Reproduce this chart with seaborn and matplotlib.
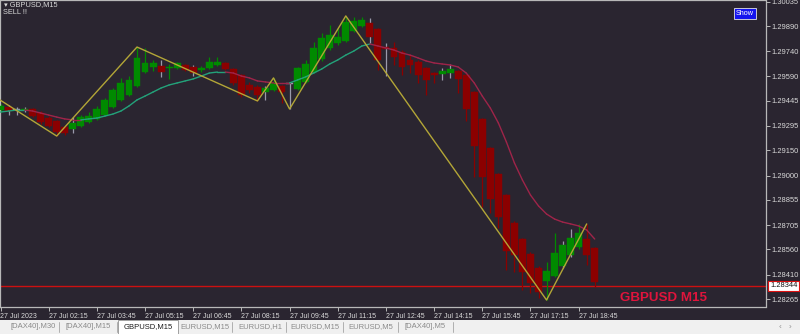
import numpy as np
import pandas as pd
import matplotlib
matplotlib.use("Agg")
import matplotlib.pyplot as plt
import seaborn as sns
from matplotlib.patches import Rectangle

# ---------------- data ----------------
bars = list(range(75))
opens = [1.29390, 1.29408, 1.29390, 1.29390, 1.29396, 1.29372, 1.29342, 1.29325, 1.29289, 1.29277,
         1.29295, 1.29319, 1.29337, 1.29360, 1.29408, 1.29450, 1.29479, 1.29533, 1.29616, 1.29646,
         1.29652, 1.29640, 1.29640, 1.29658, 1.29646, 1.29628, 1.29640, 1.29658, 1.29670, 1.29634,
         1.29598, 1.29539, 1.29527, 1.29497, 1.29509, 1.29533, 1.29545, 1.29515, 1.29557, 1.29616,
         1.29694, 1.29759, 1.29789, 1.29801, 1.29860, 1.29890, 1.29908, 1.29872, 1.29765, 1.29759,
         1.29735, 1.29688, 1.29676, 1.29640, 1.29610, 1.29604, 1.29610, 1.29622, 1.29598, 1.29497,
         1.29337, 1.29164, 1.29009, 1.28884, 1.28718, 1.28622, 1.28533, 1.28450, 1.28372, 1.28402,
         1.28462, 1.28527, 1.28575, 1.28622, 1.28569]
closes = [1.29414, 1.29384, 1.29390, 1.29396, 1.29354, 1.29319, 1.29295, 1.29259, 1.29253, 1.29313,
          1.29348, 1.29354, 1.29396, 1.29450, 1.29509, 1.29551, 1.29569, 1.29700, 1.29670, 1.29670,
          1.29616, 1.29646, 1.29670, 1.29628, 1.29610, 1.29640, 1.29676, 1.29676, 1.29634, 1.29551,
          1.29479, 1.29509, 1.29479, 1.29521, 1.29551, 1.29497, 1.29545, 1.29640, 1.29664, 1.29759,
          1.29819, 1.29836, 1.29825, 1.29914, 1.29920, 1.29926, 1.29825, 1.29688, 1.29753, 1.29706,
          1.29646, 1.29658, 1.29598, 1.29569, 1.29598, 1.29622, 1.29634, 1.29575, 1.29396, 1.29176,
          1.28991, 1.28860, 1.28753, 1.28551, 1.28527, 1.28426, 1.28360, 1.28307, 1.28432, 1.28539,
          1.28587, 1.28628, 1.28658, 1.28527, 1.28366]
highs = [1.29426, 1.29420, 1.29408, 1.29408, 1.29402, 1.29384, 1.29354, 1.29331, 1.29301, 1.29348,
         1.29360, 1.29378, 1.29414, 1.29462, 1.29521, 1.29581, 1.29592, 1.29765, 1.29759, 1.29688,
         1.29688, 1.29664, 1.29676, 1.29664, 1.29658, 1.29652, 1.29706, 1.29706, 1.29676, 1.29640,
         1.29604, 1.29557, 1.29539, 1.29533, 1.29581, 1.29539, 1.29551, 1.29646, 1.29688, 1.29795,
         1.29848, 1.29896, 1.29878, 1.29950, 1.29944, 1.29944, 1.29938, 1.29878, 1.29789, 1.29795,
         1.29747, 1.29717, 1.29688, 1.29646, 1.29616, 1.29640, 1.29664, 1.29628, 1.29604, 1.29503,
         1.29342, 1.29170, 1.29015, 1.28890, 1.28729, 1.28628, 1.28545, 1.28462, 1.28485, 1.28658,
         1.28610, 1.28682, 1.28712, 1.28712, 1.28575]
lows = [1.29378, 1.29360, 1.29360, 1.29378, 1.29348, 1.29307, 1.29289, 1.29235, 1.29241, 1.29253,
        1.29289, 1.29313, 1.29331, 1.29354, 1.29402, 1.29444, 1.29473, 1.29527, 1.29610, 1.29622,
        1.29587, 1.29575, 1.29634, 1.29622, 1.29592, 1.29616, 1.29634, 1.29652, 1.29628, 1.29539,
        1.29467, 1.29491, 1.29444, 1.29450, 1.29503, 1.29432, 1.29396, 1.29509, 1.29551, 1.29610,
        1.29682, 1.29747, 1.29777, 1.29795, 1.29854, 1.29884, 1.29789, 1.29628, 1.29592, 1.29658,
        1.29598, 1.29610, 1.29551, 1.29479, 1.29551, 1.29569, 1.29581, 1.29491, 1.29325, 1.28991,
        1.28813, 1.28777, 1.28688, 1.28438, 1.28426, 1.28319, 1.28301, 1.28271, 1.28259, 1.28396,
        1.28450, 1.28515, 1.28563, 1.28468, 1.28337]
ma_values = [1.29378, 1.29384, 1.29390, 1.29390, 1.29384, 1.29372, 1.29360, 1.29348, 1.29337, 1.29331,
             1.29331, 1.29337, 1.29342, 1.29354, 1.29366, 1.29384, 1.29414, 1.29450, 1.29473, 1.29497,
             1.29521, 1.29539, 1.29551, 1.29563, 1.29575, 1.29592, 1.29610, 1.29616, 1.29616, 1.29610,
             1.29592, 1.29581, 1.29563, 1.29557, 1.29551, 1.29551, 1.29551, 1.29569, 1.29587, 1.29610,
             1.29634, 1.29664, 1.29688, 1.29717, 1.29741, 1.29771, 1.29783, 1.29771, 1.29759, 1.29747,
             1.29729, 1.29717, 1.29700, 1.29682, 1.29670, 1.29664, 1.29658, 1.29646, 1.29610, 1.29551,
             1.29473, 1.29402, 1.29313, 1.29200, 1.29075, 1.28973, 1.28884, 1.28819, 1.28771, 1.28741,
             1.28723, 1.28712, 1.28700, 1.28676, 1.28622]
zz_bars = [-3, 7, 17, 32, 34, 36, 43, 68, 73]
zz_prices = [1.29539, 1.29235, 1.29765, 1.29444, 1.29581, 1.29396, 1.29950, 1.28259, 1.28712]
gray_wick_bars = [1, 2, 3, 9, 20, 24, 33, 36, 46, 48, 55, 56, 70, 71]
price_ticks = [1.30035, 1.29890, 1.29740, 1.29590, 1.29445, 1.29295, 1.29150, 1.29000,
               1.28855, 1.28705, 1.28560, 1.28410, 1.28265]
time_tick_bars = [0, 6, 12, 18, 24, 30, 36, 42, 48, 54, 60, 66, 72]
time_labels = ["27 Jul 2023", "27 Jul 02:15", "27 Jul 03:45", "27 Jul 05:15", "27 Jul 06:45",
               "27 Jul 08:15", "27 Jul 09:45", "27 Jul 11:15", "27 Jul 12:45", "27 Jul 14:15",
               "27 Jul 15:45", "27 Jul 17:15", "27 Jul 18:45"]
bid_price = 1.28344
tab_labels = ["[DAX40],M30", "[DAX40],M15", "GBPUSD,M15", "EURUSD,M15", "EURUSD,H1",
              "EURUSD,M15", "EURUSD,M5", "[DAX40],M5"]
active_tab = "GBPUSD,M15"

# ---------------- style ----------------
BG = "#2a2530"
UP = "#008a00"
DOWN = "#8b0000"
DOJI = "#9a9aab"
MA_UP = "#23a27a"
MA_DOWN = "#9e2449"
ZZ = "#b3a637"
FG = "#d9d9d9"

sns.set_theme(style="dark")
plt.rcParams["font.family"] = ["Liberation Sans", "DejaVu Sans"]

W, H = 800, 334
fig = plt.figure(figsize=(W / 100, H / 100), dpi=100, facecolor=BG)
ax_left, ax_w = 0.0, 765.5 / W
ax_bot_px = 306.7
ax = fig.add_axes([ax_left, (H - ax_bot_px) / H, ax_w, ax_bot_px / H])
ax.set_facecolor(BG)

df = pd.DataFrame({"bar": bars, "open": opens, "close": closes, "high": highs, "low": lows})
is_up = df["close"] > df["open"]
is_doji = df["close"] == df["open"]
body_col = np.where(is_doji, DOJI, np.where(is_up, UP, DOWN))
wick_col = [DOJI if b in gray_wick_bars else c for b, c in zip(df["bar"], body_col)]

ax.vlines(df["bar"], df["low"], df["high"], colors=wick_col, linewidth=0.9, zorder=2)
bottoms = np.minimum(df["open"], df["close"])
heights = np.maximum((df["close"] - df["open"]).abs(), 0.00005)
ax.bar(df["bar"], heights, bottom=bottoms, width=0.86, color=body_col,
       edgecolor=body_col, linewidth=0.3, zorder=3)

# moving average, coloured by direction
ma = np.array(ma_values)
cur = MA_UP
for i in range(len(ma) - 1):
    if ma[i + 1] > ma[i]:
        cur = MA_UP
    elif ma[i + 1] < ma[i]:
        cur = MA_DOWN
    ax.plot([bars[i], bars[i + 1]], [ma[i], ma[i + 1]], color=cur, lw=1.0,
            solid_capstyle="round", zorder=4)

# zigzag
sns.lineplot(x=zz_bars, y=zz_prices, ax=ax, color=ZZ, lw=1.0, sort=False,
             estimator=None, zorder=5)

# bid line
ax.axhline(bid_price, color="#cc1010", lw=1.0, zorder=1)

# axes limits (8.03 px per bar, bar 0 at x = 0.5 px)
px_per_bar = 8.03
ax.set_xlim((0 - 0.5) / px_per_bar, (765.5 - 0.5) / px_per_bar)
ax.set_ylim(1.282193, 1.300448)

for s in ax.spines.values():
    s.set_visible(True)
    s.set_color("#b8b8b8")
    s.set_linewidth(0.9)

ax.yaxis.tick_right()
ax.set_yticks(price_ticks)
ax.set_yticklabels([f"{p:.5f}" for p in price_ticks])
ax.tick_params(axis="y", colors="#b8b8b8", labelcolor=FG, labelsize=5.4,
               length=3, width=0.7, pad=1.5, direction="out", right=True, left=False)
ax.set_xticks(time_tick_bars)
ax.set_xticklabels(time_labels, ha="left")
ax.tick_params(axis="x", colors="#b8b8b8", labelcolor=FG, labelsize=5.0,
               length=3, width=0.7, pad=1.2, direction="out", bottom=True)
ax.grid(False)
ax.set_xlabel("")
ax.set_ylabel("")

# current price label
ax.annotate(f"{bid_price:.5f}", xy=(1.0, bid_price), xycoords=("axes fraction", "data"),
            xytext=(3.2, 0), textcoords="offset points", va="center", ha="left",
            fontsize=5.4, color="#111111", annotation_clip=False,
            bbox=dict(boxstyle="square,pad=0.2", fc="white", ec="#dd1111", lw=0.8))

# top-left texts
fig.text(4 / W, 1 - 5 / H, "\u25be GBPUSD,M15", fontsize=5.3, color=FG, va="center", ha="left")
fig.text(3 / W, 1 - 12.5 / H, "SELL !!", fontsize=5.3, color=FG, va="center", ha="left")

# Show button
fig.add_artist(Rectangle((734 / W, 1 - 19 / H), 22 / W, 11 / H, transform=fig.transFigure,
                         fc="#1414ee", ec="#c8c8d8", lw=0.7))
fig.text(745 / W, 1 - 13.5 / H, "Show", fontsize=5.2, color="white", ha="center", va="center")

# symbol label
fig.text(663 / W, 1 - 298 / H, "GBPUSD M15", fontsize=9.6, fontweight="bold",
         color="#e0143c", ha="center", va="center")

# tab bar
tab_top = 319.5
fig.add_artist(Rectangle((0, 0), 1, (H - tab_top) / H, transform=fig.transFigure,
                         fc="#f0f0f0", ec="none"))
tab_centers = [33, 88, 148, 205, 260, 315, 371, 425]
seps = [59, 117, 232, 286, 343, 398, 453]
for sx in seps:
    fig.add_artist(plt.Line2D([sx / W, sx / W], [2 / H, (H - tab_top - 2) / H],
                              transform=fig.transFigure, color="#b0b0b0", lw=0.7))
fig.add_artist(Rectangle((118 / W, 0), 60 / W, (H - tab_top) / H, transform=fig.transFigure,
                         fc="white", ec="#a0a0a0", lw=0.7))
for cx, lab in zip(tab_centers, tab_labels):
    col = "#1a1a1a" if (lab == active_tab and cx == 148) else "#8a8a8a"
    fig.text(cx / W, (H - 327) / H, lab, fontsize=5.5, color=col, ha="center", va="center")
fig.text(780 / W, (H - 327) / H, "\u2039", fontsize=6, color="#909090", ha="center", va="center")
fig.text(790 / W, (H - 327) / H, "\u203a", fontsize=6, color="#909090", ha="center", va="center")

fig.savefig("out.png", dpi=100, facecolor=BG)
